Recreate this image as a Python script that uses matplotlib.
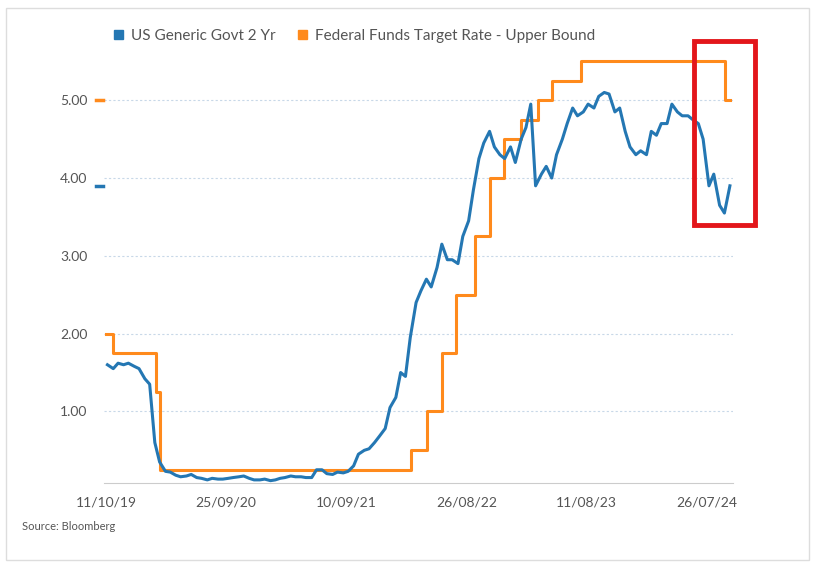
import matplotlib.pyplot as plt
import matplotlib.dates as mdates
from matplotlib.patches import Patch, Rectangle
import numpy as np
import pandas as pd

plt.rcParams['font.family'] = ['Lato', 'DejaVu Sans']

# US Generic Govt 2 Yr, semi-monthly (1st / 15th) readings
ust2_dates = pd.date_range('2019-10-15', periods=120, freq='SMS')
ust2_vals = [
    1.60, 1.55, 1.62, 1.60, 1.62,
    1.58, 1.55, 1.42, 1.35, 0.60, 0.35, 0.23, 0.22, 0.18, 0.16, 0.17, 0.19,
    0.15, 0.14, 0.12, 0.14, 0.13, 0.13, 0.14, 0.15, 0.16, 0.17, 0.14, 0.12,
    0.12, 0.13, 0.11, 0.12, 0.14, 0.15, 0.17, 0.16, 0.16, 0.15, 0.15, 0.25,
    0.25, 0.20, 0.19, 0.22, 0.21, 0.23, 0.30, 0.45, 0.50, 0.52, 0.60, 0.68,
    0.78, 1.05, 1.18, 1.50, 1.45, 1.95, 2.40, 2.55, 2.70, 2.60, 2.85, 3.15,
    2.95, 2.95, 2.90, 3.25, 3.45, 3.85, 4.25, 4.45, 4.60, 4.40, 4.30, 4.25,
    4.40, 4.20, 4.50, 4.65, 4.95, 3.90, 4.05, 4.15, 4.00, 4.30, 4.50, 4.70,
    4.90, 4.80, 4.85, 4.95, 4.90, 5.05, 5.10, 5.08, 4.85, 4.90, 4.60, 4.40,
    4.30, 4.35, 4.30, 4.60, 4.55, 4.70, 4.70, 4.95, 4.85, 4.80, 4.80, 4.75,
    4.70, 4.50, 3.90, 4.05, 3.65, 3.55, 3.90,
]

# Federal Funds Target Rate - Upper Bound (change dates)
fed_dates = pd.to_datetime([
    '2019-10-11', '2019-10-30', '2020-03-03', '2020-03-15', '2022-03-16',
    '2022-05-04', '2022-06-15', '2022-07-27', '2022-09-21', '2022-11-02',
    '2022-12-14', '2023-02-01', '2023-03-22', '2023-05-03', '2023-07-26',
    '2024-09-18', '2024-10-01',
])
fed_vals = [2.00, 1.75, 1.25, 0.25, 0.50, 1.00, 1.75, 2.50, 3.25, 4.00,
            4.50, 4.75, 5.00, 5.25, 5.50, 5.00, 5.00]

xtick_labels = ['11/10/19', '25/09/20', '10/09/21', '26/08/22', '11/08/23', '26/07/24']
ytick_vals = [1, 2, 3, 4, 5]

blue = '#2477b3'
orange = '#ff8a1c'
grey = '#555555'

fig = plt.figure(figsize=(8.14, 5.69), dpi=100)
W, H = 814, 569
ax = fig.add_axes([104 / W, 1 - 483 / H, (733 - 104) / W, (483 - 45) / H])

ax.plot(ust2_dates, ust2_vals, color=blue, lw=2.2, zorder=3)
ax.step(fed_dates, fed_vals, where='post', color=orange, lw=2.2, zorder=2)

ax.set_xlim(pd.Timestamp('2019-10-05'), pd.Timestamp('2024-10-10'))
ax.set_ylim(0.08, 5.71)

ax.set_xticks(pd.to_datetime(xtick_labels, format='%d/%m/%y'))
ax.set_xticklabels(xtick_labels, color=grey, fontsize=10)
ax.set_yticks(ytick_vals)
ax.set_yticklabels([f'{v:.2f}' for v in ytick_vals], color=grey, fontsize=10)
ax.tick_params(axis='both', length=0, pad=10)
ax.tick_params(axis='y', pad=12)
ax.grid(axis='y', color='#c8d8e8', linestyle=(0, (2, 2)), lw=0.8)
for s in ['top', 'right', 'left']:
    ax.spines[s].set_visible(False)
ax.spines['bottom'].set_color('#cccccc')

# last-value markers next to the y axis
for val, col in [(ust2_vals[-1], blue), (fed_vals[-1], orange)]:
    ax.plot([-0.012, -0.002], [val, val], color=col, lw=2.5,
            transform=ax.get_yaxis_transform(), clip_on=False)

handles = [Patch(color=blue, label='US Generic Govt 2 Yr'),
           Patch(color=orange, label='Federal Funds Target Rate - Upper Bound')]
fig.legend(handles=handles, loc='center left', bbox_to_anchor=(100 / W, 1 - 36 / H),
           ncol=2, frameon=False, fontsize=11, handlelength=0.6, handleheight=0.6,
           handletextpad=0.5, columnspacing=1.5, labelcolor=grey)

fig.text(22 / W, 1 - 526 / H, 'Source: Bloomberg', fontsize=8, color=grey, va='center')

fig.patches.append(Rectangle((6 / W, 1 - 560 / H), 803 / W, 552 / H, transform=fig.transFigure,
                             fill=False, ec='#dddddd', lw=1))
fig.patches.append(Rectangle((694 / W, 1 - 225 / H), 61 / W, 184 / H, transform=fig.transFigure,
                             fill=False, ec='#e3161b', lw=3.5, zorder=10))

fig.savefig('out.png', dpi=100)
